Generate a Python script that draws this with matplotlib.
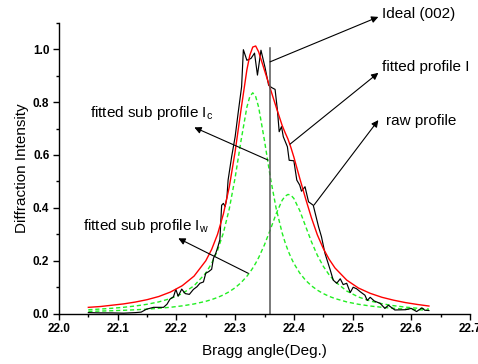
import matplotlib
matplotlib.use('Agg')
import matplotlib.pyplot as plt
from matplotlib.ticker import MultipleLocator

plt.rcParams['font.family'] = ['Liberation Sans', 'DejaVu Sans']
plt.rcParams['mathtext.default'] = 'regular'

# fitted curves, sampled on a common angle grid
fit_x = [22.05, 22.07, 22.09, 22.11, 22.13, 22.15, 22.17, 22.19, 22.21, 22.23,
         22.25, 22.26, 22.27, 22.28, 22.29, 22.30, 22.31, 22.32, 22.325, 22.33,
         22.335, 22.34, 22.35, 22.36, 22.37, 22.38, 22.385, 22.39, 22.395, 22.40,
         22.41, 22.42, 22.43, 22.44, 22.45, 22.46, 22.47, 22.49, 22.51, 22.53,
         22.55, 22.57, 22.59, 22.61, 22.63]
fit_total = [0.024, 0.027, 0.032, 0.037, 0.044, 0.053, 0.065, 0.082, 0.106, 0.142,
             0.200, 0.243, 0.300, 0.377, 0.479, 0.613, 0.771, 0.922, 0.977, 1.008,
             1.012, 0.990, 0.920, 0.850, 0.780, 0.712, 0.685, 0.660, 0.628, 0.592,
             0.512, 0.435, 0.362, 0.298, 0.247, 0.206, 0.173, 0.127, 0.097, 0.077,
             0.062, 0.051, 0.042, 0.035, 0.029]
sub_c = [0.0151, 0.0175, 0.0204, 0.0242, 0.0291, 0.0356, 0.0446, 0.0573, 0.0761, 0.1054,
         0.1537, 0.1901, 0.2391, 0.3057, 0.3961, 0.5145, 0.6539, 0.7809, 0.8208, 0.835,
         0.8208, 0.7809, 0.6539, 0.5145, 0.3961, 0.3057, 0.2698, 0.2391, 0.2127, 0.1901,
         0.1537, 0.1263, 0.1054, 0.0890, 0.0761, 0.0657, 0.0573, 0.0446, 0.0356, 0.0291,
         0.0242, 0.0204, 0.0175, 0.0151, 0.0132]
sub_w = [0.0088, 0.0099, 0.0112, 0.0128, 0.0148, 0.0172, 0.0203, 0.0243, 0.0296, 0.0368,
         0.0468, 0.0534, 0.0613, 0.0711, 0.0831, 0.0982, 0.1172, 0.1415, 0.156, 0.1725,
         0.191, 0.2118, 0.2608, 0.3183, 0.3785, 0.4285, 0.444, 0.4508, 0.448, 0.4357,
         0.3899, 0.3304, 0.2717, 0.2209, 0.1796, 0.1471, 0.1216, 0.0858, 0.0631, 0.0481,
         0.0377, 0.0303, 0.0248, 0.0207, 0.0175]

# measured (raw) profile
raw_x = [22.05, 22.07, 22.09, 22.11, 22.13, 22.14, 22.149, 22.161, 22.178, 22.184,
         22.189, 22.195, 22.199, 22.203, 22.209, 22.215, 22.222, 22.229, 22.235, 22.24,
         22.246, 22.25, 22.255, 22.26, 22.263, 22.267, 22.271, 22.274, 22.277, 22.28,
         22.283, 22.286, 22.288, 22.294, 22.30, 22.305, 22.311, 22.314, 22.32, 22.327,
         22.333, 22.338, 22.344, 22.351, 22.357, 22.362, 22.368, 22.372, 22.375, 22.379,
         22.382, 22.389, 22.392, 22.40, 22.405, 22.41, 22.413, 22.419, 22.425, 22.433,
         22.442, 22.447, 22.453, 22.462, 22.467, 22.473, 22.479, 22.484, 22.49, 22.496,
         22.501, 22.507, 22.513, 22.521, 22.525, 22.53, 22.537, 22.547, 22.555, 22.561,
         22.572, 22.59, 22.60, 22.609, 22.618, 22.623, 22.63]
raw_y = [0.004, 0.003, 0.003, 0.002, 0.004, 0.006, 0.017, 0.024, 0.024, 0.036,
         0.055, 0.064, 0.092, 0.066, 0.093, 0.076, 0.073, 0.092, 0.102, 0.115,
         0.120, 0.153, 0.159, 0.168, 0.209, 0.228, 0.256, 0.280, 0.410, 0.417,
         0.405, 0.440, 0.505, 0.593, 0.669, 0.757, 0.858, 0.998, 0.958, 0.965,
         0.985, 0.902, 0.996, 0.930, 0.864, 0.855, 0.848, 0.770, 0.688, 0.707,
         0.669, 0.631, 0.580, 0.578, 0.505, 0.486, 0.463, 0.480, 0.423, 0.410,
         0.329, 0.291, 0.228, 0.165, 0.127, 0.115, 0.132, 0.110, 0.115, 0.080,
         0.100, 0.094, 0.083, 0.070, 0.050, 0.062, 0.048, 0.039, 0.020, 0.032,
         0.014, 0.015, 0.020, 0.008, 0.022, 0.013, 0.012]

ideal_angle = 22.36
ideal_top = 1.004

fig = plt.figure(figsize=(4.78, 3.64), dpi=100)
ax = fig.add_axes([0.1234, 0.1382, 0.8599, 0.7994])

green = '#22ee22'
ax.plot(fit_x, sub_c, color=green, lw=1.0, ls=(0, (3, 2)))
ax.plot(fit_x, sub_w, color=green, lw=1.0, ls=(0, (3, 2)))
ax.plot(raw_x, raw_y, color='black', lw=0.85)
ax.plot(fit_x, fit_total, color='red', lw=1.0)
ax.plot([ideal_angle, ideal_angle], [0, ideal_top], color='#555555', lw=1.1)

ax.set_xlim(22.0, 22.7)
ax.set_ylim(0.0, 1.1)
ax.xaxis.set_major_locator(MultipleLocator(0.1))
ax.xaxis.set_minor_locator(MultipleLocator(0.05))
ax.yaxis.set_major_locator(MultipleLocator(0.2))
ax.yaxis.set_minor_locator(MultipleLocator(0.1))
ax.xaxis.set_major_formatter(plt.FormatStrFormatter('%.1f'))
ax.yaxis.set_major_formatter(plt.FormatStrFormatter('%.1f'))

ax.spines['top'].set_visible(False)
ax.spines['right'].set_visible(False)
ax.spines['left'].set_linewidth(1.0)
ax.spines['bottom'].set_linewidth(1.0)
ax.tick_params(which='major', direction='out', length=4, width=1.0, labelsize=8.5, pad=3)
ax.tick_params(which='minor', direction='out', length=2.2, width=1.0)

ax.set_xlabel('Bragg angle(Deg.)', fontsize=11, labelpad=6)
ax.set_ylabel('Diffraction Intensity', fontsize=11, labelpad=3)

arrow = dict(arrowstyle='-|>', color='black', lw=0.8, mutation_scale=10,
             shrinkA=0, shrinkB=0)


def note(label, tail, head, text_pos):
    ax.annotate('', xy=head, xytext=tail, arrowprops=arrow, annotation_clip=False)
    ax.text(text_pos[0], text_pos[1], label, fontsize=11, ha='left', va='center',
            clip_on=False)


note('Ideal (002)', (22.3594, 0.952), (22.5439, 1.122), (22.5497, 1.134))
note('fitted profile I', (22.3935, 0.641), (22.5439, 0.9105), (22.5497, 0.933))
note('raw profile', (22.4343, 0.4107), (22.5439, 0.7318), (22.5565, 0.729))
note('fitted sub profile I$_c$', (22.3561, 0.5807), (22.2305, 0.7042), (22.0528, 0.757))
note('fitted sub profile I$_w$', (22.3224, 0.1526), (22.2032, 0.2849), (22.0414, 0.3325))

# bold tick labels, set after the ticks are final
fig.canvas.draw()
for lab in ax.get_xticklabels() + ax.get_yticklabels():
    lab.set_fontweight('bold')

fig.savefig('out.png', dpi=100)
